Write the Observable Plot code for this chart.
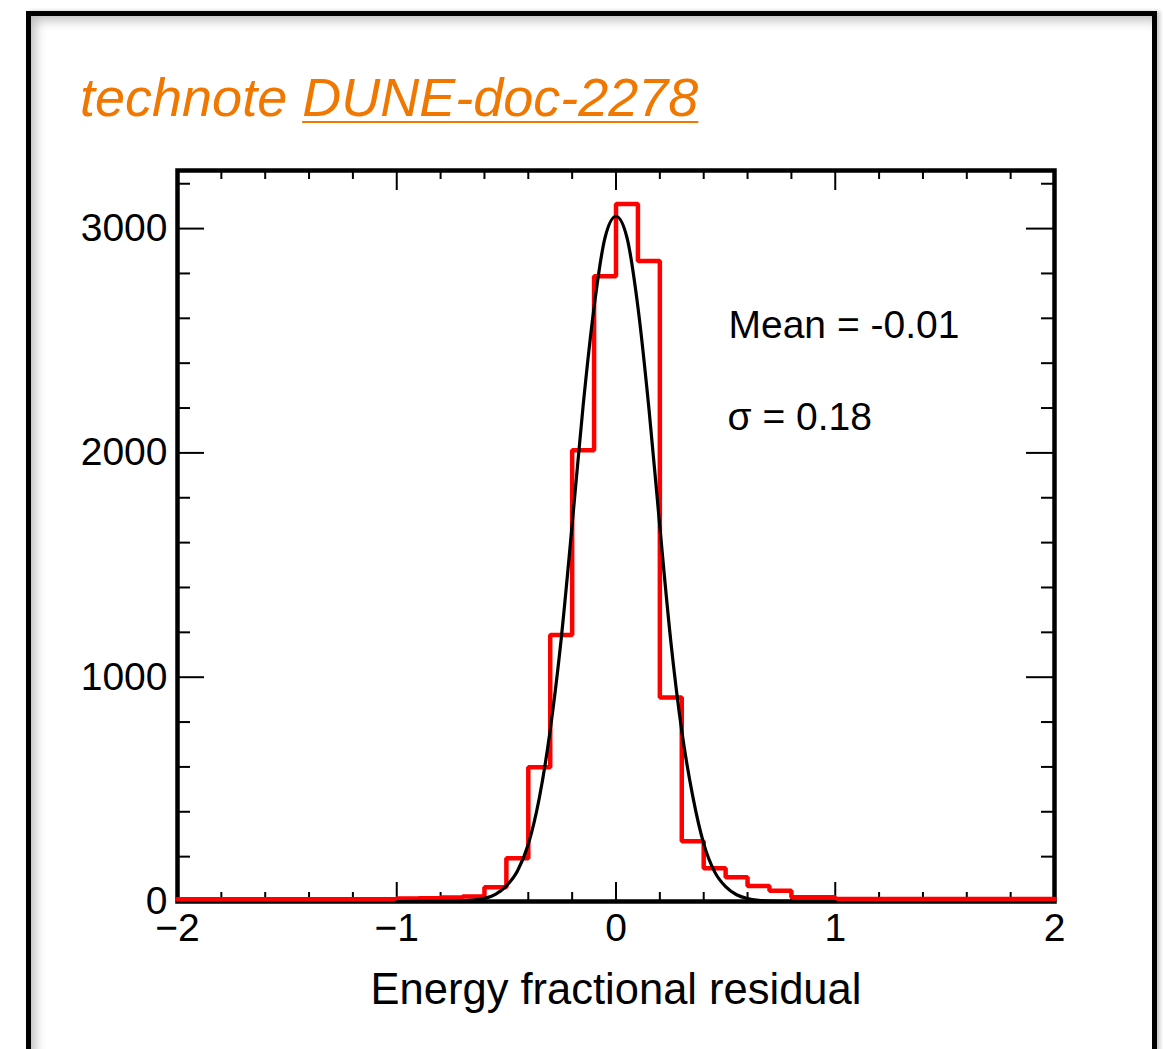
<!DOCTYPE html>
<html>
<head>
<meta charset="utf-8">
<script src="https://cdn.jsdelivr.net/npm/d3@7"></script>
<script src="https://cdn.jsdelivr.net/npm/@observablehq/plot@0.6"></script>
<style>
  html, body { margin: 0; padding: 0; background: #fff; width: 1163px; height: 1049px; overflow: hidden; }
  #box { position: absolute; left: 26px; top: 11px; width: 1121px; height: 1120px; border: 5px solid #000;
         box-shadow: inset 7px 7px 12px -3px rgba(0,0,0,0.28), 3px 0 4px rgba(0,0,0,0.22); }
  #chart { position: absolute; left: 0; top: 0; }
  #title { position: absolute; left: 80px; top: 70px; font-family: "Liberation Sans", Arial, sans-serif;
           font-style: italic; font-size: 54px; line-height: 1; color: #f07800; white-space: nowrap; z-index: 2; }
  #title u { text-decoration-thickness: 2px; text-underline-offset: 5px; }
</style>
</head>
<body>
<div id="box"></div>
<div id="chart"></div>
<div id="title">technote <u>DUNE-doc-2278</u></div>
<script>
// Histogram: lower bin edges (width 0.1) and counts
const binLower = [-2.0,-1.9,-1.8,-1.7,-1.6,-1.5,-1.4,-1.3,-1.2,-1.1,
                  -1.0,-0.9,-0.8,-0.7,-0.6,-0.5,-0.4,-0.3,-0.2,-0.1,
                   0.0, 0.1, 0.2, 0.3, 0.4, 0.5, 0.6, 0.7, 0.8, 0.9,
                   1.0, 1.1, 1.2, 1.3, 1.4, 1.5, 1.6, 1.7, 1.8, 1.9];
const binCounts = [10,10,10,10,10,10,10,10,10,10,
                   13,14,18,22,63,193,598,1188,2012,2788,
                   3110,2855,910,269,148,108,69,48,19,19,
                   11,11,11,11,11,11,11,11,11,11];
const histMax = 2.0;

// Gaussian fit curve
const fitX = [-1.0,-0.8,-0.7,-0.65,-0.6,-0.55,-0.5,-0.45,-0.4,-0.35,-0.3,-0.25,-0.2,-0.15,-0.1,-0.05,
              0.0,0.05,0.1,0.15,0.2,0.25,0.3,0.35,0.4,0.45,0.5,0.55,0.6,0.65,0.7,0.8,1.0];
const fitY = [0,1,3,6,14,32,70,135,255,460,765,1170,1680,2210,2650,2960,
              3055,2960,2650,2200,1670,1160,760,470,258,132,66,30,13,5,2,0,0];

// Axis ticks
const xMajorTicks = [-2,-1,0,1,2];
const xTickLabels = ["\u22122","\u22121","0","1","2"];
const xMinorTicks = [-1.8,-1.6,-1.4,-1.2,-0.8,-0.6,-0.4,-0.2,0.2,0.4,0.6,0.8,1.2,1.4,1.6,1.8];
const yMajorTicks = [0,1000,2000,3000];
const yTickLabels = ["0","1000","2000","3000"];
const yMinorTicks = [200,400,600,800,1200,1400,1600,1800,2200,2400,2600,2800,3200];
const xLabel = "Energy fractional residual";
const statLines = ["Mean = -0.01", "σ = 0.18"];

const hist = binLower.map((x, i) => ({x, y: binCounts[i]}));
hist.push({x: histMax, y: binCounts[binCounts.length - 1]});
const fit = fitX.map((x, i) => ({x, y: fitY[i]}));

const W = 1163, H = 1049;
const mL = 177, mR = 109, mT = 170, mB = 148;
const pw = W - mL - mR, ph = H - mT - mB;
const font = "Liberation Sans, Arial, Helvetica, sans-serif";

const plot = Plot.plot({
  width: W, height: H,
  marginLeft: mL, marginRight: mR, marginTop: mT, marginBottom: mB,
  style: {background: "none", fontFamily: font, color: "#000", overflow: "visible"},
  x: {domain: [-2, 2]},
  y: {domain: [0, 3259]},
  marks: [
    Plot.frame({stroke: "#000", strokeWidth: 4.5}),
    // inward ticks, bottom & top
    Plot.tickX(xMajorTicks, {x: d => d, insetTop: ph - 19, stroke: "#000", strokeWidth: 2}),
    Plot.tickX(xMinorTicks, {x: d => d, insetTop: ph - 9, stroke: "#000", strokeWidth: 2}),
    Plot.tickX(xMajorTicks, {x: d => d, insetBottom: ph - 20, stroke: "#000", strokeWidth: 2}),
    Plot.tickX(xMinorTicks, {x: d => d, insetBottom: ph - 9, stroke: "#000", strokeWidth: 2}),
    // inward ticks, left & right
    Plot.tickY(yMajorTicks, {y: d => d, insetRight: pw - 27, stroke: "#000", strokeWidth: 2}),
    Plot.tickY(yMinorTicks, {y: d => d, insetRight: pw - 13, stroke: "#000", strokeWidth: 2}),
    Plot.tickY(yMajorTicks, {y: d => d, insetLeft: pw - 28, stroke: "#000", strokeWidth: 2}),
    Plot.tickY(yMinorTicks, {y: d => d, insetLeft: pw - 13, stroke: "#000", strokeWidth: 2}),
    Plot.axisX({ticks: xMajorTicks, tickSize: 0, tickPadding: 12, fontSize: 39, label: null, anchor: "bottom",
                tickFormat: d => xTickLabels[xMajorTicks.indexOf(d)]}),
    Plot.axisY({ticks: yMajorTicks, tickSize: 0, tickPadding: 10, fontSize: 39, label: null, anchor: "left",
                tickFormat: d => yTickLabels[yMajorTicks.indexOf(d)]}),
    Plot.line(hist, {x: "x", y: "y", curve: "step-after", stroke: "#ff0000", strokeWidth: 4.5, strokeLinejoin: "miter"}),
    Plot.line(fit, {x: "x", y: "y", curve: "monotone-x", stroke: "#000", strokeWidth: 3.2}),
    Plot.text([statLines[0]], {frameAnchor: "top-left", dx: 551, dy: 167, lineAnchor: "bottom", textAnchor: "start", fontSize: 39, fill: "#000"}),
    Plot.text([statLines[1]], {frameAnchor: "top-left", dx: 550, dy: 259, lineAnchor: "bottom", textAnchor: "start", fontSize: 39, fill: "#000"}),
    Plot.text([xLabel], {frameAnchor: "bottom", dy: 102, lineAnchor: "bottom", fontSize: 43.5, fill: "#000"})
  ]
});
document.getElementById("chart").appendChild(plot);
</script>
</body>
</html>
